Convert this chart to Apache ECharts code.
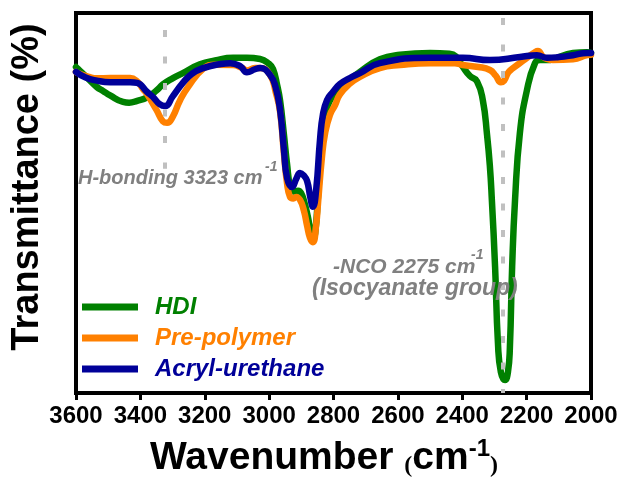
<!DOCTYPE html>
<html>
<head>
<meta charset="utf-8">
<script src="https://cdn.jsdelivr.net/npm/echarts@6/dist/echarts.min.js"></script>
<style>
  html, body { margin: 0; padding: 0; background: #fff; }
  #chart { width: 621px; height: 479px; }
</style>
</head>
<body>
<div id="chart"></div>
<script>
// FTIR spectra, [wavenumber, transmittance (a.u.)]
const seriesNames = ["HDI", "Pre-polymer", "Acryl-urethane"];
const seriesColors = ["#008000", "#ff8000", "#000099"];

const hdi = [
  [3600, 85.8], [3594, 85.3], [3560, 82.5], [3535, 80.5], [3516, 79.5], [3494, 78.3],
  [3454, 76.6], [3435, 76.4], [3410, 76.9], [3379, 77.8], [3350, 79.6], [3330, 81.2],
  [3300, 82.8], [3268, 84.2], [3215, 86.5], [3168, 87.5], [3112, 88.2], [3069, 88.2],
  [3028, 87.9], [3000, 86.6], [2988, 85.3], [2975, 81], [2966, 77], [2954, 68],
  [2944, 60], [2935, 54.5], [2925, 53], [2910, 53.2], [2900, 52.5], [2890, 50],
  [2880, 46.5], [2871, 42.5], [2864, 40.2], [2857, 42], [2848, 52], [2836, 66],
  [2826, 73], [2811, 77], [2780, 80.3], [2749, 82.4], [2718, 84.5], [2656, 87.8],
  [2593, 89], [2500, 89.5], [2440, 89.3], [2420, 88.6], [2398, 85.8], [2376, 83.4],
  [2354, 82], [2336, 77], [2323, 68], [2314, 59.5], [2308, 50.8], [2298, 33.2],
  [2289, 13], [2280, 5.5], [2267, 3.4], [2258, 5.5], [2252, 12], [2245, 33.2],
  [2236, 50.8], [2221, 68.4], [2199, 79.7], [2174, 86.8], [2158, 87.6], [2137, 87.6],
  [2118, 87.8], [2056, 89.5], [2012, 89.7], [2000, 89.5]
];

const prePolymer = [
  [3600, 84.5], [3594, 84.2], [3560, 83.2], [3535, 82.8], [3494, 82.9], [3432, 82.9],
  [3410, 82], [3392, 80], [3379, 78.6], [3350, 74.5], [3330, 71.5], [3317, 71.1],
  [3300, 72.6], [3277, 77], [3252, 80.5], [3205, 85.3], [3168, 86.4], [3112, 86.3],
  [3085, 85.6], [3069, 84.9], [3044, 85.5], [3028, 85.5], [2997, 83.7], [2979, 79],
  [2966, 74], [2954, 63], [2944, 55], [2935, 51.6], [2925, 51.2], [2916, 51.6],
  [2904, 50.8], [2892, 48], [2882, 44], [2873, 40.8], [2864, 39.7], [2854, 44.2],
  [2848, 50], [2836, 62], [2826, 68.4], [2811, 73.2], [2795, 75.8], [2780, 78.6],
  [2749, 81.4], [2718, 83.2], [2656, 85.5], [2593, 86.3], [2500, 86.8], [2423, 86.8],
  [2398, 86.3], [2350, 85.8], [2314, 85], [2296, 83.5], [2280, 81.8], [2270, 82.2],
  [2258, 84.2], [2245, 85.3], [2221, 86.8], [2199, 88.2], [2174, 89.7], [2165, 90],
  [2150, 88.6], [2137, 87.9], [2118, 87.6], [2056, 87.8], [2012, 88.9], [2000, 89]
];

const acrylUrethane = [
  [3600, 84.5], [3570, 83], [3535, 82.2], [3494, 81.8], [3432, 81.8], [3410, 81.6],
  [3379, 79.2], [3361, 77.9], [3340, 76], [3323, 75.5], [3300, 78], [3268, 81.6],
  [3240, 84], [3205, 85.5], [3150, 86.6], [3121, 86.8], [3090, 86], [3069, 84.4],
  [3044, 85.2], [3028, 85.5], [2997, 83.7], [2980, 80.5], [2966, 74.5], [2954, 64],
  [2944, 56.5], [2929, 54.2], [2915, 56.5], [2904, 57.9], [2892, 57.2], [2882, 55.8],
  [2872, 51.5], [2864, 49], [2854, 53.4], [2842, 66.6], [2833, 73.2], [2820, 77.1],
  [2802, 79.2], [2780, 81.3], [2749, 82.9], [2718, 84.2], [2656, 86.8], [2500, 88.2],
  [2398, 88.2], [2314, 87.6], [2221, 88.4], [2168, 88.9], [2137, 88.2], [2100, 88.4],
  [2056, 88.9], [2012, 89.5], [2000, 89.5]
];

// band markers: [wavenumber, top, bottom]
const hBondMarker = [3323, 95.5, 59];
const ncoMarker = [2275, 98.7, 0];

const xMin = 2000, xMax = 3600, xStep = 200;

const chart = echarts.init(document.getElementById("chart"));
const font = "Liberation Sans";
const grey = "#808080";

function bandLine(m) {
  return [{coord: [m[0], m[1]]}, {coord: [m[0], m[2]]}];
}

const seriesData = [hdi, prePolymer, acrylUrethane];
const series = seriesData.map((d, i) => ({
  name: seriesNames[i],
  type: "line",
  data: d,
  showSymbol: false,
  smooth: 0.5,
  color: seriesColors[i],
  lineStyle: {width: 6.5, color: seriesColors[i], join: "round", cap: "round"},
  z: 2 + i,
}));

series[0].markLine = {
  silent: true,
  symbol: "none",
  label: {show: false},
  lineStyle: {color: "#c0c0c0", width: 4, type: [7, 19.5]},
  data: [bandLine(hBondMarker), bandLine(ncoMarker)],
};

chart.setOption({
  animation: false,
  backgroundColor: "#fff",
  grid: {
    left: 76, right: 30, top: 13, bottom: 86,
    show: true, borderColor: "#000", borderWidth: 4,
  },
  xAxis: {
    type: "value",
    min: xMin, max: xMax, interval: xStep,
    inverse: true,
    axisLine: {show: true, lineStyle: {color: "#000", width: 4}},
    axisTick: {show: true, inside: false, length: 7, lineStyle: {color: "#000", width: 3}},
    axisLabel: {
      color: "#000", fontSize: 24, fontWeight: "bold", fontFamily: font, margin: 11,
      formatter: (v) => String(v),
    },
    splitLine: {show: false},
  },
  yAxis: {
    type: "value",
    min: 0, max: 100,
    axisLine: {show: true, lineStyle: {color: "#000", width: 4}},
    axisTick: {show: false},
    axisLabel: {show: false},
    splitLine: {show: false},
  },
  legend: {
    orient: "vertical",
    left: 82, top: 295,
    padding: 0,
    icon: "rect",
    itemWidth: 56, itemHeight: 7,
    itemGap: 7,
    textStyle: {
      fontSize: 24, fontWeight: "bold", fontStyle: "italic", fontFamily: font,
      padding: [0, 0, 0, 12],
    },
    data: seriesNames.map((n, i) => ({name: n, textStyle: {color: seriesColors[i]}})),
  },
  graphic: [
    {
      type: "text", left: 78, top: 168, silent: true, z: 100,
      style: {text: "H-bonding 3323 cm", fill: grey, font: "italic bold 20px " + font},
    },
    {
      type: "text", left: 265, top: 160, silent: true, z: 100,
      style: {text: "-1", fill: grey, font: "italic bold 14px " + font},
    },
    {
      type: "text", left: 333, top: 257, silent: true, z: 100,
      style: {text: "-NCO 2275 cm", fill: grey, font: "italic bold 21px " + font},
    },
    {
      type: "text", left: 471, top: 248, silent: true, z: 100,
      style: {text: "-1", fill: grey, font: "italic bold 14px " + font},
    },
    {
      type: "text", left: 312, top: 277, silent: true, z: 100,
      style: {text: "(Isocyanate group)", fill: grey, font: "italic bold 23px " + font},
    },
    {
      type: "text", x: 28, y: 187, rotation: Math.PI / 2, silent: true,
      style: {
        text: "Transmittance (%)", fill: "#000", font: "bold 38px " + font,
        align: "center", verticalAlign: "middle",
      },
    },
    {
      type: "text", left: 150, top: 437, silent: true,
      style: {
        text: "{t|Wavenumber }{p|(}{t|cm}{s|-1}{p|)}",
        rich: {
          t: {fontSize: 39, fontWeight: "bold", fontFamily: font, fill: "#000", verticalAlign: "bottom", lineHeight: 41},
          p: {fontSize: 24, fontWeight: "bold", fontFamily: "Liberation Serif", fill: "#000", verticalAlign: "bottom", lineHeight: 36},
          s: {fontSize: 24, fontWeight: "bold", fontFamily: font, fill: "#000", verticalAlign: "top", lineHeight: 41},
        },
      },
    },
  ],
  series: series,
});
</script>
</body>
</html>
